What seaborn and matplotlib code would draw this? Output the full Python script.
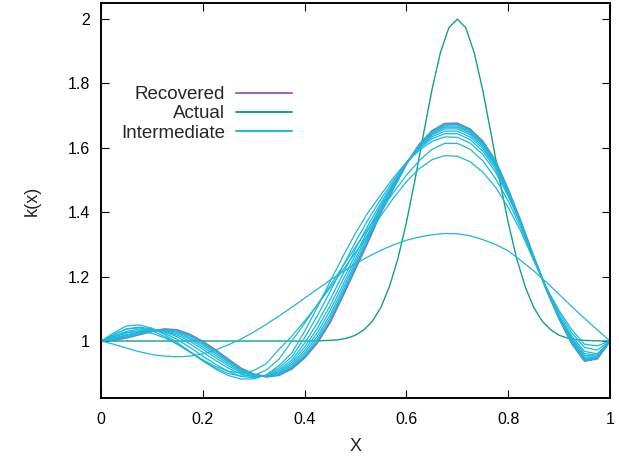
import numpy as np
import matplotlib
matplotlib.use('Agg')
import matplotlib.pyplot as plt
import seaborn as sns
from matplotlib.lines import Line2D

# sample grids (41 pts for the reconstructions, 61 for the true profile)
x_grid = np.linspace(0, 1, 41)
x_fine = np.linspace(0, 1, 61)

actual = [1.000] * 26 + [
    1.001, 1.002, 1.004, 1.009, 1.018, 1.035, 1.062, 1.105, 1.169, 1.256,
    1.368, 1.499, 1.641, 1.779, 1.895, 1.973, 2.000, 1.973, 1.895, 1.779,
    1.641, 1.499, 1.368, 1.256, 1.169, 1.105, 1.062, 1.035, 1.018, 1.009,
    1.004, 1.002, 1.001, 1.000, 1.000]

recovered = [
    1.000, 1.003, 1.010, 1.020, 1.030, 1.037, 1.034, 1.020, 0.998, 0.972,
    0.943, 0.915, 0.897, 0.889, 0.894, 0.914, 0.948, 0.995, 1.058, 1.140,
    1.225, 1.310, 1.400, 1.475, 1.550, 1.610, 1.652, 1.675, 1.676, 1.658,
    1.620, 1.560, 1.470, 1.370, 1.262, 1.160, 1.070, 0.992, 0.938, 0.945,
    1.000]

# intermediate iterates, first to last
inter_1 = [
    1.000, 0.990, 0.978, 0.967, 0.958, 0.953, 0.951, 0.953, 0.960, 0.972,
    0.988, 1.006, 1.028, 1.052, 1.078, 1.105, 1.133, 1.161, 1.189, 1.215,
    1.240, 1.262, 1.282, 1.299, 1.313, 1.323, 1.330, 1.334, 1.333, 1.327,
    1.315, 1.300, 1.280, 1.250, 1.218, 1.183, 1.145, 1.107, 1.070, 1.035,
    1.000]
inter_2 = [
    1.000, 1.015, 1.027, 1.030, 1.024, 1.010, 0.990, 0.966, 0.942, 0.921,
    0.906, 0.901, 0.908, 0.930, 0.975, 1.015, 1.062, 1.112, 1.165, 1.220,
    1.275, 1.330, 1.390, 1.445, 1.495, 1.535, 1.563, 1.576, 1.574, 1.557,
    1.525, 1.478, 1.415, 1.340, 1.250, 1.165, 1.095, 1.035, 0.990, 0.985,
    1.000]
inter_3 = [
    1.000, 1.020, 1.037, 1.041, 1.032, 1.014, 0.991, 0.965, 0.939, 0.916,
    0.899, 0.891, 0.893, 0.910, 0.944, 1.000, 1.055, 1.113, 1.172, 1.232,
    1.292, 1.350, 1.407, 1.462, 1.515, 1.560, 1.595, 1.614, 1.614, 1.596,
    1.560, 1.505, 1.435, 1.350, 1.255, 1.165, 1.088, 1.025, 0.980, 0.972,
    1.000]
inter_4 = [
    1.000, 1.025, 1.047, 1.050, 1.040, 1.020, 0.995, 0.967, 0.938, 0.913,
    0.893, 0.882, 0.882, 0.895, 0.924, 0.963, 1.030, 1.105, 1.185, 1.262,
    1.335, 1.400, 1.455, 1.508, 1.555, 1.592, 1.620, 1.634, 1.633, 1.615,
    1.580, 1.525, 1.450, 1.360, 1.260, 1.165, 1.080, 1.015, 0.968, 0.960,
    1.000]
inter_5 = [
    1.000, 1.020, 1.038, 1.043, 1.038, 1.024, 1.005, 0.980, 0.953, 0.928,
    0.906, 0.890, 0.886, 0.894, 0.917, 0.951, 1.010, 1.078, 1.153, 1.232,
    1.308, 1.378, 1.441, 1.500, 1.554, 1.597, 1.628, 1.644, 1.644, 1.626,
    1.590, 1.534, 1.455, 1.363, 1.261, 1.164, 1.078, 1.009, 0.961, 0.956,
    1.000]
inter_6 = [
    1.000, 1.015, 1.030, 1.037, 1.036, 1.028, 1.013, 0.991, 0.965, 0.940,
    0.916, 0.897, 0.889, 0.892, 0.911, 0.941, 0.993, 1.056, 1.128, 1.207,
    1.286, 1.360, 1.430, 1.493, 1.553, 1.600, 1.634, 1.652, 1.652, 1.634,
    1.598, 1.541, 1.459, 1.365, 1.261, 1.163, 1.076, 1.005, 0.955, 0.953,
    1.000]
inter_7 = [
    1.000, 1.012, 1.025, 1.032, 1.034, 1.030, 1.018, 0.999, 0.974, 0.948,
    0.923, 0.902, 0.891, 0.891, 0.906, 0.934, 0.981, 1.039, 1.109, 1.189,
    1.269, 1.346, 1.422, 1.488, 1.552, 1.603, 1.639, 1.659, 1.659, 1.641,
    1.604, 1.546, 1.462, 1.366, 1.261, 1.162, 1.074, 1.001, 0.950, 0.951,
    1.000]
inter_8 = [
    1.000, 1.009, 1.020, 1.028, 1.033, 1.032, 1.023, 1.005, 0.981, 0.955,
    0.929, 0.906, 0.893, 0.891, 0.902, 0.928, 0.971, 1.026, 1.094, 1.174,
    1.256, 1.335, 1.415, 1.484, 1.551, 1.605, 1.643, 1.664, 1.664, 1.646,
    1.609, 1.550, 1.464, 1.367, 1.261, 1.161, 1.073, 0.998, 0.946, 0.949,
    1.000]
inter_9 = [
    1.000, 1.007, 1.017, 1.025, 1.032, 1.034, 1.027, 1.010, 0.987, 0.961,
    0.934, 0.909, 0.894, 0.890, 0.899, 0.923, 0.963, 1.015, 1.081, 1.162,
    1.245, 1.326, 1.410, 1.481, 1.551, 1.607, 1.646, 1.668, 1.668, 1.650,
    1.613, 1.554, 1.466, 1.368, 1.262, 1.161, 1.072, 0.996, 0.943, 0.948,
    1.000]
inter_10 = [
    1.000, 1.005, 1.014, 1.023, 1.031, 1.035, 1.030, 1.015, 0.992, 0.966,
    0.938, 0.912, 0.896, 0.890, 0.897, 0.919, 0.956, 1.006, 1.071, 1.152,
    1.236, 1.319, 1.406, 1.478, 1.551, 1.608, 1.649, 1.671, 1.672, 1.654,
    1.616, 1.557, 1.468, 1.369, 1.262, 1.161, 1.071, 0.994, 0.941, 0.947,
    1.000]
inter_11 = [
    1.000, 1.004, 1.011, 1.021, 1.030, 1.036, 1.032, 1.018, 0.996, 0.970,
    0.941, 0.914, 0.896, 0.889, 0.895, 0.916, 0.951, 0.999, 1.063, 1.145,
    1.229, 1.314, 1.402, 1.476, 1.550, 1.609, 1.651, 1.673, 1.674, 1.656,
    1.618, 1.559, 1.469, 1.370, 1.262, 1.160, 1.070, 0.993, 0.939, 0.946,
    1.000]

intermediates = [inter_1, inter_2, inter_3, inter_4, inter_5, inter_6,
                 inter_7, inter_8, inter_9, inter_10, inter_11]

labels = ['Recovered', 'Actual', 'Intermediate']
c_rec, c_act, c_int = '#9b5fc0', '#0fa383', '#1bb8dc'

sns.set_theme(style='ticks')
plt.rcParams['font.family'] = ['Liberation Sans', 'DejaVu Sans']

fig = plt.figure(figsize=(6.19, 4.57), dpi=100)
ax = fig.add_axes([101 / 619, 1 - 398 / 457, 509 / 619, 395 / 457])

sns.lineplot(x=x_grid, y=recovered, color=c_rec, lw=1.4, ax=ax,
             estimator=None, sort=False)
sns.lineplot(x=x_fine, y=actual, color=c_act, lw=1.0, ax=ax,
             estimator=None, sort=False)
for vals in intermediates:
    sns.lineplot(x=x_grid, y=vals, color=c_int, lw=0.9, ax=ax,
                 estimator=None, sort=False)

ax.set_xlim(0, 1)
ax.set_ylim(0.823, 2.05)
ax.set_xticks([0, 0.2, 0.4, 0.6, 0.8, 1])
ax.set_xticklabels(['0', '0.2', '0.4', '0.6', '0.8', '1'])
ax.set_yticks([1, 1.2, 1.4, 1.6, 1.8, 2])
ax.set_yticklabels(['1', '1.2', '1.4', '1.6', '1.8', '2'])
ax.tick_params(direction='in', top=True, right=True, length=5.8, width=0.8,
               labelsize=11.5, colors='black')
ax.tick_params(axis='x', pad=10)
ax.tick_params(axis='y', pad=8)
for sp in ax.spines.values():
    sp.set_visible(True)
    sp.set_linewidth(1.4)
    sp.set_color('black')

ax.set_xlabel('X', fontsize=13, labelpad=8)
ax.set_ylabel('k(x)', fontsize=13, labelpad=19)

handles = [Line2D([], [], color=c, lw=1.4) for c in (c_rec, c_act, c_int)]
ax.legend(handles, labels, loc='upper right', bbox_to_anchor=(0.376, 0.79),
          markerfirst=False, frameon=False, fontsize=13.5, handlelength=3.0,
          handletextpad=0.6, labelspacing=0.12, borderpad=0, borderaxespad=0)

fig.savefig('out.png', dpi=100)
